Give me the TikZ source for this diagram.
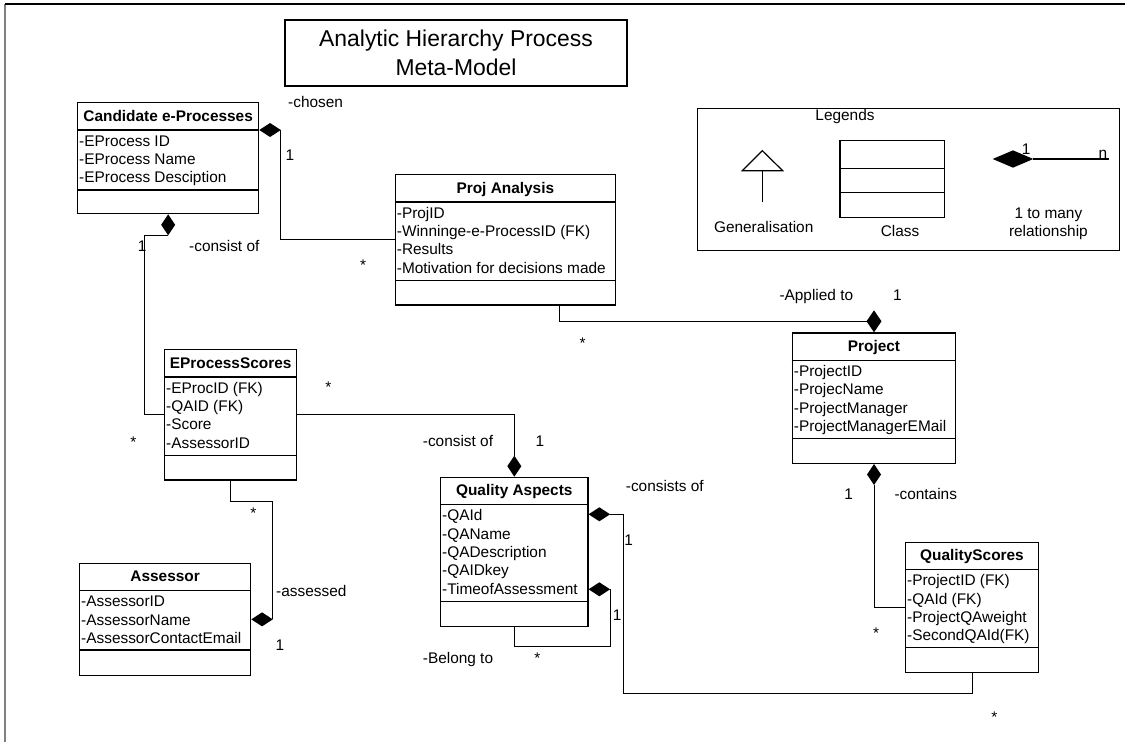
\documentclass[tikz,border=0pt]{standalone}
\usepackage{fontspec}
\setmainfont{Liberation Sans}
\usetikzlibrary{shapes.geometric,calc}

\tikzset{
  uml/.style={draw, line width=1.3pt, inner sep=0pt},
  divider/.style={line width=1.1pt},
  link/.style={line width=1pt},
  txt/.style={inner sep=0pt, font=\fontsize{15.4}{18.4}\selectfont, anchor=base west},
  ctxt/.style={txt, anchor=base},
  hdr/.style={inner sep=0pt, font=\fontsize{15.4}{18.4}\selectfont\bfseries, anchor=base},
  ttl/.style={inner sep=0pt, font=\fontsize{22.9}{28}\selectfont, anchor=base},
  hdia/.style={diamond, fill=black, draw=none, inner sep=0pt, outer sep=0pt,
               minimum width=21.5pt, minimum height=14pt},
  vdia/.style={hdia, minimum width=14pt, minimum height=21pt},
}

% UML class: name, x, y (top), width, height, offset of the operations divider, title, attributes
\newcommand\umlclass[8]{%
  \node[uml, minimum width=#4pt, minimum height=#5pt, anchor=north west] (#1) at (#2,#3) {};
  \draw[divider] ([yshift=-28pt]#1.north west) -- ([yshift=-28pt]#1.north east);
  \draw[divider] ([yshift=-#6pt]#1.north west) -- ([yshift=-#6pt]#1.north east);
  \node[hdr] (#1-title) at ($(#1.north)+(0,19)$) {#7};
  \foreach \entry [count=\i] in {#8}
    \node[txt] (#1-a\i) at ($(#1.north west)+(2,{44+(\i-1)*18.4})$) {\entry};
}

\begin{document}
\begin{tikzpicture}[x=1pt, y=-1pt]
\useasboundingbox (0,0) rectangle (1125,742);

% page frame
\draw[line width=1.2pt, gray] (5,742) -- (5,4);
\draw[line width=1.6pt] (5,4) -- (1125,4);

% title
\node[draw, line width=1.8pt, minimum width=342pt, minimum height=66pt, anchor=north west, inner sep=0pt] (title) at (284,19) {};
\node[ttl] (title-l1) at (456,46.7) {Analytic Hierarchy Process};
\node[ttl] (title-l2) at (456,75) {Meta-Model};

% legend
\node[draw, line width=1pt, minimum width=422.6pt, minimum height=142.3pt, anchor=north west, inner sep=0pt] (legend) at (696.7,107.7) {};
\node[ctxt] (legend-title) at (845,120) {Legends};
\draw[line width=1.2pt] (762.3,202.3) -- (762.3,170.7);
\draw[line width=1.2pt] (742.3,170.7) -- (762.3,150.7) -- (782.7,170.7) -- cycle;
\node[ctxt] (legend-gen) at (763.7,232.7) {Generalisation};
\node[draw, line width=1.2pt, minimum width=104.7pt, minimum height=77pt, anchor=north west, inner sep=0pt] (legend-class) at (839.3,140) {};
\draw[line width=1.1pt] ([yshift=-28.3pt]legend-class.north west) -- ([yshift=-28.3pt]legend-class.north east);
\draw[line width=1.1pt] ([yshift=-52.7pt]legend-class.north west) -- ([yshift=-52.7pt]legend-class.north east);
\node[ctxt] (legend-cls) at (900,236.7) {Class};
\node[hdia, minimum width=40.6pt, minimum height=17.3pt] (legend-dia) at (1013,159) {};
\coordinate (legend-end) at (1109.3,159);
\draw[line width=1.2pt] (legend-dia.east) -- (legend-end);
\node[txt] (legend-one) at (1021.6,154) {1};
\node[txt] (legend-n) at (1098.5,158.3) {n};
\node[ctxt] (legend-rel1) at (1048.4,218.3) {1 to many};
\node[ctxt] (legend-rel2) at (1048.4,236.7) {relationship};

% classes
\umlclass{cand}{77}{102}{181}{111}{88}{Candidate e-Processes}{-EProcess ID,-EProcess Name,-EProcess Desciption}
\umlclass{pa}{394.7}{174}{220}{130.3}{106.7}{Proj Analysis}{-ProjID,-Winninge-e-ProcessID (FK),-Results,-Motivation for decisions made}
\umlclass{eps}{164}{349}{132}{130.3}{106.7}{EProcessScores}{-EProcID (FK),-QAID (FK),-Score,-AssessorID}
\umlclass{assessor}{79}{562.7}{171}{112}{87.3}{Assessor}{-AssessorID,-AssessorName,-AssessorContactEmail}
\umlclass{qa}{440}{476.7}{147.3}{149}{125}{Quality Aspects}{-QAId,-QAName,-QADescription,-QAIDkey,-TimeofAssessment}
\umlclass{project}{791.7}{332.3}{163.3}{130.4}{106}{Project}{-ProjectID,-ProjecName,-ProjectManager,-ProjectManagerEMail}
\umlclass{qs}{905}{541.7}{132.7}{130}{106}{QualityScores}{-ProjectID (FK),-QAId (FK),-ProjectQAweight,-SecondQAId(FK)}

% composition diamonds
\node[hdia, anchor=west] (dch) at ([yshift=-28pt]cand.north east) {};
\node[vdia, anchor=north] (dco) at (cand.south) {};
\node[vdia, anchor=south] (dqa) at (qa.north) {};
\node[hdia, anchor=west] (das) at (assessor.east) {};
\node[vdia, anchor=south, minimum width=15pt, minimum height=22pt] (dpr) at (project.north) {};
\node[vdia, anchor=north] (dpb) at (project.south) {};
\node[hdia, anchor=west] (dqa1) at ([yshift=-37.6pt]qa.north east) {};
\node[hdia, anchor=west] (dqa2) at ([yshift=-112.6pt]qa.north east) {};

% associations
\draw[link] (dch.east) |- (pa.west);
\draw[link] (dco.south) -- ++(-24,0) |- (eps.west);
\draw[link] (eps.east) -| (dqa.north);
\draw[link] (eps.south) -- ++(0,20.7) -| (das.east);
\draw[link] ([xshift=54.6pt]pa.south) |- (dpr.west);
\draw[link] (dpb.south) |- (qs.west);
\coordinate (qsturn) at ($(qs.south)+(0,20.6)$);
\draw[link] (dqa1.east) -- ++(13.4,0) |- (qsturn) -- (qs.south);
\draw[link] (dqa2.east) -- ++(0,57.4) -| (qa.south);

% role names
\node[txt] (r-chosen) at (288,107) {-chosen};
\node[txt] (r-consist1) at (189,251.7) {-consist of};
\node[txt] (r-consist2) at (422.7,446.7) {-consist of};
\node[txt] (r-assessed) at (276,596.7) {-assessed};
\node[txt] (r-consists) at (625.7,491.7) {-consists of};
\node[txt] (r-belong) at (422.7,663.3) {-Belong to};
\node[txt] (r-applied) at (779.3,300) {-Applied to};
\node[txt] (r-contains) at (894.3,499.3) {-contains};

% multiplicities
\node[ctxt] (m-chosen-1) at (290,160) {1};
\node[ctxt] (m-chosen-n) at (363,270.9) {*};
\node[ctxt] (m-cons1-1) at (142.2,251.7) {1};
\node[ctxt] (m-cons1-n) at (133.3,447.2) {*};
\node[ctxt] (m-cons2-1) at (540,446.5) {1};
\node[ctxt] (m-cons2-n) at (328.3,392.2) {*};
\node[ctxt] (m-ass-1) at (280,650) {1};
\node[ctxt] (m-ass-n) at (253.3,518.9) {*};
\node[ctxt] (m-consists-1) at (628.7,545) {1};
\node[ctxt] (m-consists-n) at (994.3,722.2) {*};
\node[ctxt] (m-belong-1) at (617.2,620) {1};
\node[ctxt] (m-belong-n) at (537.3,663.9) {*};
\node[ctxt] (m-applied-1) at (897.5,300) {1};
\node[ctxt] (m-applied-n) at (582.7,348.9) {*};
\node[ctxt] (m-contains-1) at (848.7,499.3) {1};
\node[ctxt] (m-contains-n) at (876,638.9) {*};
\end{tikzpicture}
\end{document}
